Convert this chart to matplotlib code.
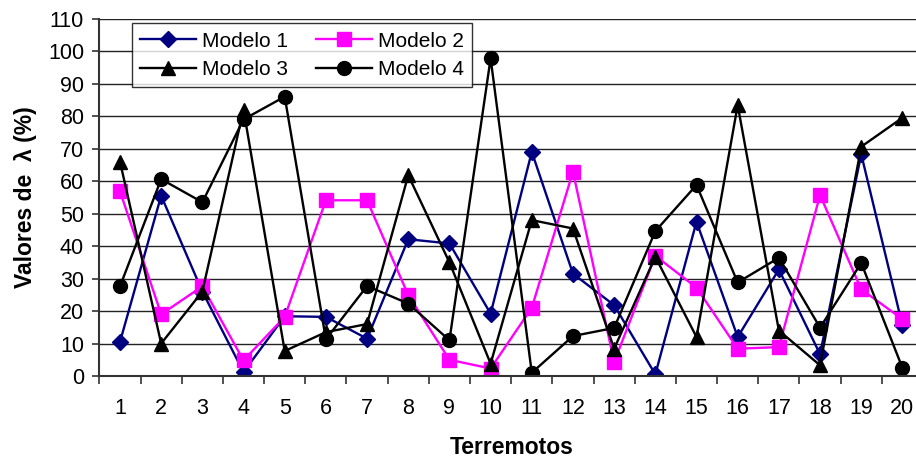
import numpy as np
import matplotlib.pyplot as plt

terremotos = list(range(1, 21))
modelo1 = [10.5, 55.5, 26, 1.2, 18.4, 18.2, 11.5, 42.1, 40.8, 19.2,
           69, 31.5, 21.8, 0.5, 47.5, 12, 32.8, 6.7, 68.3, 15.6]
modelo2 = [56.9, 19, 27.6, 4.8, 18.2, 54.1, 54.1, 24.9, 5, 2.3,
           21, 62.9, 4.3, 37, 27.2, 8.4, 8.9, 55.7, 26.7, 17.5]
modelo3 = [66, 10, 26, 82, 7.7, 13.5, 16, 61.8, 35, 3.8,
           48, 45.4, 8.4, 36.7, 12, 83.4, 14, 3.3, 70.6, 79.5]
modelo4 = [27.6, 60.6, 53.5, 79, 86, 11.3, 27.7, 22.3, 11, 97.8,
           1, 12.3, 14.8, 44.6, 58.8, 28.8, 36.4, 14.9, 34.8, 2.5]

plt.rcParams['font.family'] = ['Liberation Sans', 'DejaVu Sans']

fig = plt.figure(figsize=(9.16, 4.58), dpi=100)
# axes runs slightly off the right edge like the original
ax = fig.add_axes([99.4 / 916, 1 - 376 / 458, 823.6 / 916, 357.3 / 458])

l1, = ax.plot(terremotos, modelo1, color='#000080', lw=1.7, marker='D', ms=8,
              label='Modelo 1')
l2, = ax.plot(terremotos, modelo2, color='#FF00FF', lw=1.7, marker='s', ms=10,
              label='Modelo 2')
l3, = ax.plot(terremotos, modelo3, color='black', lw=1.7, marker='^', ms=10,
              label='Modelo 3')
l4, = ax.plot(terremotos, modelo4, color='black', lw=1.7, marker='o', ms=10,
              label='Modelo 4')

ax.set_xlim(0.5, 20.5)
ax.set_ylim(0, 110)
ax.set_yticks(np.arange(0, 111, 10))
ax.set_xticks(terremotos)
ax.set_xticks(np.arange(0.5, 21, 1), minor=True)
ax.tick_params(axis='x', which='major', length=0, pad=16, labelsize=15.5)
ax.tick_params(axis='x', which='minor', length=6, width=1.2, color='#333333')
ax.tick_params(axis='y', length=5, width=1.2, color='#333333', labelsize=15.5, pad=6)

ax.grid(axis='y', color='#222222', lw=1)
ax.set_axisbelow(True)
for s in ['top', 'right']:
    ax.spines[s].set_visible(False)
for s in ['left', 'bottom']:
    ax.spines[s].set_color('#333333')
    ax.spines[s].set_linewidth(1.5)

ax.set_ylabel('Valores de  λ (%)', fontsize=16.5, fontweight='bold', labelpad=8)
ax.set_xlabel('Terremotos', fontsize=16.5, fontweight='bold', labelpad=12)

# row-wise order like the original legend
leg = ax.legend([l1, l3, l2, l4], ['Modelo 1', 'Modelo 3', 'Modelo 2', 'Modelo 4'],
                ncol=2, loc='upper left', bbox_to_anchor=(0.0391, 0.987),
                fontsize=15, frameon=True, fancybox=False, edgecolor='black',
                borderpad=0.4, handlelength=2.7, handletextpad=0.3,
                columnspacing=1.3, labelspacing=0.45, borderaxespad=0)
leg.get_frame().set_linewidth(1)

fig.savefig('out.png', dpi=100)
